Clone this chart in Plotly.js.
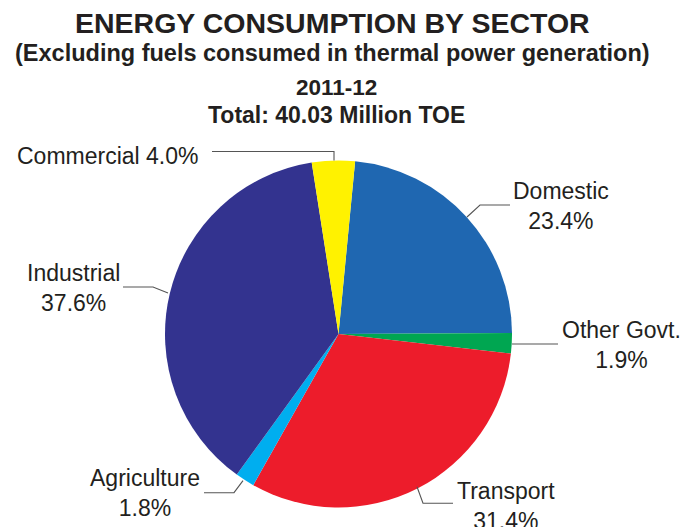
<!DOCTYPE html>
<html>
<head>
<meta charset="utf-8">
<script src="https://cdn.plot.ly/plotly-3.0.1.min.js"></script>
<style>
  html, body { margin: 0; padding: 0; background: #ffffff; }
  #chart { width: 684px; height: 527px; }
</style>
</head>
<body>
<div id="chart"></div>
<script>
// ---- Data ----
var sectors = ["Domestic", "Other Govt.", "Transport", "Agriculture", "Industrial", "Commercial"];
var shares = [23.4, 1.9, 31.4, 1.8, 37.6, 4.0];
var sliceColors = ["#1f67b1", "#00a651", "#ed1c2b", "#00aeef", "#33338f", "#fff200"];
var titleLines = [
  "ENERGY CONSUMPTION BY SECTOR",
  "(Excluding fuels consumed in thermal power generation)",
  "2011-12",
  "Total: 40.03 Million TOE"
];

// ---- Layout helpers (pixel -> paper) ----
var W = 684, H = 527;
function px(x) { return x / W; }
function py(y) { return 1 - y / H; }

var FONT = '"Liberation Sans", Arial, Helvetica, sans-serif';
var TXT = '#231f20';

// label placements (pixel centers) and label line breaks
var labelPlacement = {
  "Commercial":  {x: 15,    y: 156,   anchor: 'left',   sep: ' '},
  "Industrial":  {x: 73,    y: 288.4, anchor: 'center', sep: '<br>'},
  "Domestic":    {x: 560.7, y: 206.2, anchor: 'center', sep: '<br>'},
  "Other Govt.": {x: 621.5, y: 345.3, anchor: 'center', sep: '<br>'},
  "Agriculture": {x: 144.5, y: 493.3, anchor: 'center', sep: '<br>'},
  "Transport":   {x: 506,   y: 506.4, anchor: 'center', sep: '<br>'}
};
var leaders = {
  "Commercial":  [[212,151.5],[334,151.5],[334,160.5]],
  "Industrial":  [[123,287],[153,287],[168,293]],
  "Domestic":    [[510,205],[480,205],[467,217]],
  "Other Govt.": [[512,344],[558,344]],
  "Agriculture": [[204,492.7],[234,492.7],[243,480.7]],
  "Transport":   [[417,486.7],[423,503.3],[453,503.3]]
};

var annotations = [];
var shapes = [];

// title lines
var titleStyle = [
  {size: 28.5, x: 332.5, y: 22.6},
  {size: 23.5, x: 332.5, y: 52.6},
  {size: 22.5, x: 336.5, y: 87.9},
  {size: 23,   x: 336.5, y: 114.7}
];
titleLines.forEach(function (t, i) {
  var s = titleStyle[i];
  annotations.push({
    text: '<b>' + t + '</b>', showarrow: false,
    xref: 'paper', yref: 'paper', x: px(s.x), y: py(s.y),
    xanchor: 'center', yanchor: 'middle',
    font: {family: FONT, size: s.size, color: TXT}
  });
});

// slice labels
sectors.forEach(function (name, i) {
  var p = labelPlacement[name];
  annotations.push({
    text: name + p.sep + shares[i].toFixed(1) + '%', showarrow: false,
    xref: 'paper', yref: 'paper', x: px(p.x), y: py(p.y),
    xanchor: p.anchor, yanchor: 'middle', align: 'center',
    font: {family: FONT, size: 23, color: TXT}
  });
  var pts = leaders[name];
  var d = pts.map(function (pt, k) {
    return (k === 0 ? 'M ' : 'L ') + px(pt[0]) + ',' + py(pt[1]);
  }).join(' ');
  shapes.push({
    type: 'path', xref: 'paper', yref: 'paper', path: d,
    line: {color: '#555555', width: 1.1}
  });
});

var cx = 338.5, cy = 334, r = 173.5;
var data = [{
  type: 'pie',
  labels: sectors,
  values: shares,
  sort: false,
  direction: 'clockwise',
  rotation: 5.5,
  textinfo: 'none',
  hoverinfo: 'label+percent',
  marker: {colors: sliceColors, line: {color: '#ffffff', width: 0}},
  domain: {x: [px(cx - r), px(cx + r)], y: [py(cy + r), py(cy - r)]},
  showlegend: false
}];

var layout = {
  width: W, height: H,
  margin: {l: 0, r: 0, t: 0, b: 0, pad: 0},
  paper_bgcolor: '#ffffff',
  plot_bgcolor: '#ffffff',
  showlegend: false,
  annotations: annotations,
  shapes: shapes,
  font: {family: FONT, color: TXT}
};

Plotly.newPlot('chart', data, layout, {displayModeBar: false, staticPlot: true});
</script>
</body>
</html>
